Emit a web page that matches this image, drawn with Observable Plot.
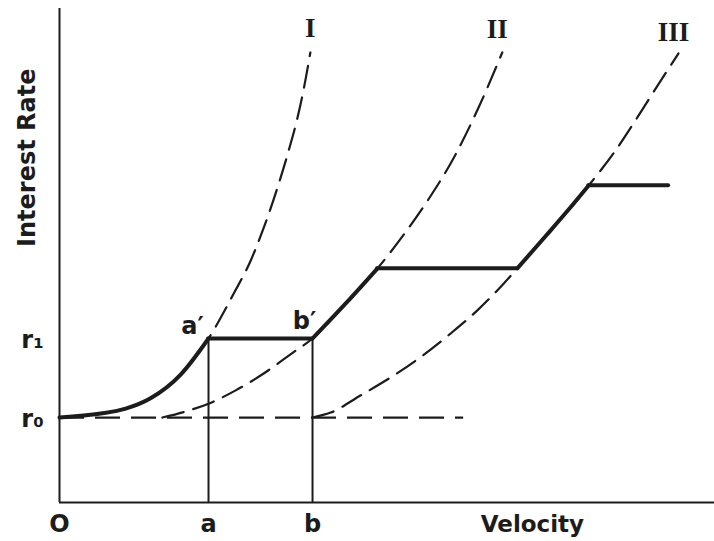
<!DOCTYPE html>
<html>
<head>
<meta charset="utf-8">
<script src="https://cdn.jsdelivr.net/npm/d3@7"></script>
<script src="https://cdn.jsdelivr.net/npm/@observablehq/plot@0.6"></script>
<style>
  html, body { margin: 0; padding: 0; background: #fff; }
</style>
</head>
<body>
<div id="chart"></div>
<script>
// ---- Data (arbitrary units: velocity 0–100, interest rate 0–100) ----
const curveNames = ["I", "II", "III"];

const curveI_v = [0, 6.3, 10.1, 13.9, 18.5, 22.75, 26.6, 29.2, 31.2, 33.3, 35.0, 36.3, 37.3, 38.3];
const curveI_r = [17.2, 18.0, 19.0, 21.1, 25.9, 33.2, 42.3, 49.0, 55.7, 63.8, 71.3, 77.7, 83.8, 91.1];

const curveII_v = [15.7, 19.2, 22.75, 26.9, 30.7, 35.7, 38.63, 43.7, 48.55, 52.1, 56.2, 60.2, 64.0, 67.6];
const curveII_r = [17.2, 18.4, 20.0, 22.7, 25.7, 30.4, 33.2, 40.3, 47.4, 53.4, 61.1, 69.8, 80.0, 91.1];

const curveIII_v = [38.63, 41.4, 46.0, 51.0, 55.1, 59.7, 63.8, 67.8, 69.9, 74.2, 77.6, 80.8, 84.6, 88.2, 91.8, 94.5];
const curveIII_r = [17.2, 18.2, 21.7, 25.7, 29.4, 34.2, 38.9, 44.3, 47.4, 53.9, 59.1, 64.2, 70.7, 77.9, 85.4, 90.9];

// Base rate line r0 and level r1
const levelLabels = ["r\u2080", "r\u2081"];
const levelValues = [17.2, 33.2];
const baseLineEnd = 61.7;

// Velocity markers O, a, b
const velocityLabels = ["O", "a", "b"];
const velocityValues = [0, 22.75, 38.63];

// Horizontal plateaus of the effective (solid) schedule
const plateauStart = [22.75, 48.55, 80.8];
const plateauEnd   = [38.63, 69.9, 93.0];
const plateauRate  = [33.2, 47.4, 64.2];

// Portions of each curve drawn solid
const solidFrom = [0, 38.63, 69.9];
const solidTo   = [22.75, 48.55, 80.8];

// Point labels a', b'
const pointLabels = ["a\u2032", "b\u2032"];

// ---- Build tables ----
const curves = [[curveI_v, curveI_r], [curveII_v, curveII_r], [curveIII_v, curveIII_r]];
const points = curves.flatMap(([vs, rs], i) => vs.map((v, j) => ({curve: curveNames[i], v, r: rs[j]})));
const solidPts = points.filter(d => {
  const i = curveNames.indexOf(d.curve);
  return d.v >= solidFrom[i] - 1e-9 && d.v <= solidTo[i] + 1e-9;
});
const curveEnds = curves.map(([vs, rs], i) => ({name: curveNames[i], v: vs[vs.length - 1], r: rs[rs.length - 1]}));
const plateaus = plateauRate.map((r, i) => ({x1: plateauStart[i], x2: plateauEnd[i], r}));
const verticals = velocityValues.slice(1);
const pointLabelData = [
  {label: pointLabels[0], v: velocityValues[1], r: levelValues[1], dx: -16, dy: -12},
  {label: pointLabels[1], v: velocityValues[2], r: levelValues[1], dx: -8, dy: -17}
];
const levelData = levelLabels.map((label, i) => ({label, r: levelValues[i]}));
const velData = velocityLabels.map((label, i) => ({label, v: velocityValues[i]}));
const curveLabelOffsets = [[0, -24], [-5, -23], [-5, -21]];

const ink = "#1c1c1c";
const sans = "'DejaVu Sans', Verdana, sans-serif";
const serif = "'Liberation Serif', 'Times New Roman', serif";

const chart = Plot.plot({
  width: 714,
  height: 541,
  marginLeft: 59,
  marginRight: 0,
  marginTop: 8,
  marginBottom: 39,
  x: {domain: [0, 100], axis: null},
  y: {domain: [0, 100], axis: null},
  style: {background: "#fff", fontFamily: sans, color: ink},
  marks: [
    // axes
    Plot.ruleX([0], {y1: 0, y2: 100, stroke: ink, strokeWidth: 2}),
    Plot.ruleY([0], {x1: 0, x2: 100, stroke: ink, strokeWidth: 2}),
    // base rate dashed line
    Plot.ruleY([levelValues[0]], {x1: 0, x2: baseLineEnd, stroke: ink, strokeWidth: 2.2, strokeDasharray: "25,11"}),
    // dashed curves
    Plot.line(points, {x: "v", y: "r", z: "curve", curve: "monotone-x", stroke: ink, strokeWidth: 2.2, strokeDasharray: "22,10"}),
    // verticals at a and b
    Plot.ruleX(verticals, {y1: 0, y2: levelValues[1], stroke: ink, strokeWidth: 2}),
    // solid effective schedule
    Plot.line(solidPts, {x: "v", y: "r", z: "curve", curve: "monotone-x", stroke: ink, strokeWidth: 4, strokeLinecap: "round", strokeLinejoin: "round"}),
    Plot.ruleY(plateaus, {x1: "x1", x2: "x2", y: "r", stroke: ink, strokeWidth: 4, strokeLinecap: "round"}),
    // curve labels
    ...curveEnds.map((d, i) => Plot.text([d], {x: "v", y: "r", text: "name", dx: curveLabelOffsets[i][0], dy: curveLabelOffsets[i][1], fontFamily: serif, fontWeight: "bold", fontSize: 27, fill: ink})),
    // point labels a', b'
    ...pointLabelData.map(d => Plot.text([d], {x: "v", y: "r", text: "label", dx: d.dx, dy: d.dy, fontSize: 24, fontWeight: "bold", fill: ink})),
    // level labels r0, r1
    Plot.text(levelData, {x: 0, y: "r", text: "label", dx: -27, dy: 2, fontSize: 24, fontWeight: "bold", fill: ink}),
    // velocity labels O, a, b
    Plot.text(velData, {x: "v", y: 0, text: "label", dy: 22, fontSize: 24, fontWeight: "bold", fill: ink}),
    // axis titles
    Plot.text(["Velocity"], {x: 72.2, y: 0, dy: 22, fontSize: 23, fontWeight: "bold", fill: ink}),
    Plot.text(["Interest Rate"], {x: 0, y: 69.8, dx: -32, rotate: -90, fontSize: 24, fontWeight: "bold", letterSpacing: 1.2, fill: ink})
  ]
});
document.getElementById("chart").appendChild(chart);
</script>
</body>
</html>
